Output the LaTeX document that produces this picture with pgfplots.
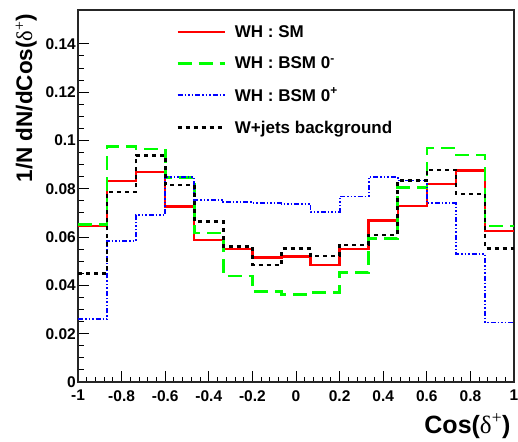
\documentclass[border=0pt]{standalone}
\usepackage{fontspec}
\setmainfont{Liberation Sans}
\newfontfamily\greekfont{Liberation Serif}
\usepackage{pgfplots}
\usepackage{pgfplotstable}
\pgfplotsset{compat=1.18}

% normalised cos(delta+) distributions, 15 bins on [-1,1]; last row repeats the final bin
\pgfplotstableread{
x        sm      bsmm    bsmp    wjets
-1.0000  0.0645  0.0652  0.0260  0.0450
-0.8667  0.0833  0.0975  0.0584  0.0786
-0.7333  0.0869  0.0964  0.0692  0.0938
-0.6000  0.0726  0.0846  0.0848  0.0815
-0.4667  0.0588  0.0616  0.0754  0.0664
-0.3333  0.0550  0.0439  0.0744  0.0560
-0.2000  0.0515  0.0374  0.0740  0.0485
-0.0667  0.0519  0.0363  0.0737  0.0552
 0.0667  0.0485  0.0370  0.0703  0.0522
 0.2000  0.0551  0.0454  0.0768  0.0567
 0.3333  0.0668  0.0595  0.0848  0.0608
 0.4667  0.0729  0.0805  0.0834  0.0834
 0.6000  0.0819  0.0968  0.0740  0.0878
 0.7333  0.0875  0.0940  0.0530  0.0779
 0.8667  0.0625  0.0646  0.0246  0.0552
 1.0000  0.0625  0.0646  0.0246  0.0552
}\histdata

\definecolor{rootred}{RGB}{255,0,0}
\definecolor{rootgreen}{RGB}{0,255,0}
\definecolor{rootblue}{RGB}{0,0,255}

\newcommand{\dplus}{{\greekfont\mdseries δ}\textsuperscript{\greekfont\mdseries +}}

\pgfplotsset{
  histline/.style={
    const plot mark left,
    legend image code/.code={\draw[##1] (0pt,0pt) -- (47pt,0pt);},
  },
}

\begin{document}
\begin{tikzpicture}
\begin{axis}[
  at={(0,0)}, anchor=south west,
  scale only axis,
  width=436pt, height=372pt,
  xmin=-1, xmax=1, ymin=0, ymax=0.154,
  xtick={-1,-0.8,...,1.01},
  ytick={0,0.02,...,0.141},
  minor x tick num=4,
  minor y tick num=3,
  tick align=inside,
  xtick pos=bottom, ytick pos=left,
  major tick length=11pt, minor tick length=5.5pt,
  axis line style={line width=1.1pt, black!85},
  every tick/.style={black, line width=0.9pt},
  scaled y ticks=false,
  /pgf/number format/assume math mode=true,
  /pgf/number format/fixed,
  /pgf/number format/precision=2,
  xticklabel style={font=\bfseries\fontsize{15.5}{15.5}\selectfont, yshift=-8pt, inner sep=0pt},
  yticklabel style={font=\bfseries\fontsize{15.5}{15.5}\selectfont, xshift=-2pt, inner sep=0pt},
  xlabel={\bfseries Cos(\dplus)},
  ylabel={\bfseries 1/N dN/dCos(\dplus)},
  xlabel style={font=\fontsize{25}{25}\selectfont, at={(axis description cs:1,0)}, anchor=base east, yshift=-51pt},
  ylabel style={font=\fontsize{22.5}{22.5}\selectfont, at={(axis description cs:-0.105,1)}, anchor=base east},
  legend style={at={(axis description cs:0.225,0.965)}, anchor=north west,
    draw=none, fill=none, font=\bfseries\fontsize{17}{17}\selectfont,
    row sep=14pt, inner sep=0pt, cells={anchor=west}},
  legend cell align=left,
]
\addplot[histline, color=rootred, line width=2.4pt] table[x=x, y=sm] {\histdata};
\addlegendentry{\hspace{7pt}WH : SM}
\addplot[histline, color=rootgreen, line width=2.6pt, dash pattern=on 14pt off 7pt] table[x=x, y=bsmm] {\histdata};
\addlegendentry{\hspace{7pt}WH : BSM 0\textsuperscript{-}}
\addplot[histline, color=rootblue, line width=1.8pt, dash pattern=on 5pt off 2pt on 1.5pt off 2pt on 1.5pt off 2pt on 1.5pt off 2pt] table[x=x, y=bsmp] {\histdata};
\addlegendentry{\hspace{7pt}WH : BSM 0\textsuperscript{+}}
\addplot[histline, color=black, line width=2.6pt, dash pattern=on 4pt off 4pt] table[x=x, y=wjets] {\histdata};
\addlegendentry{\hspace{7pt}W+jets background}
\end{axis}
\pgfresetboundingbox
\path[use as bounding box] (-78pt,-59pt) rectangle (440pt,382pt);
\end{tikzpicture}
\end{document}
